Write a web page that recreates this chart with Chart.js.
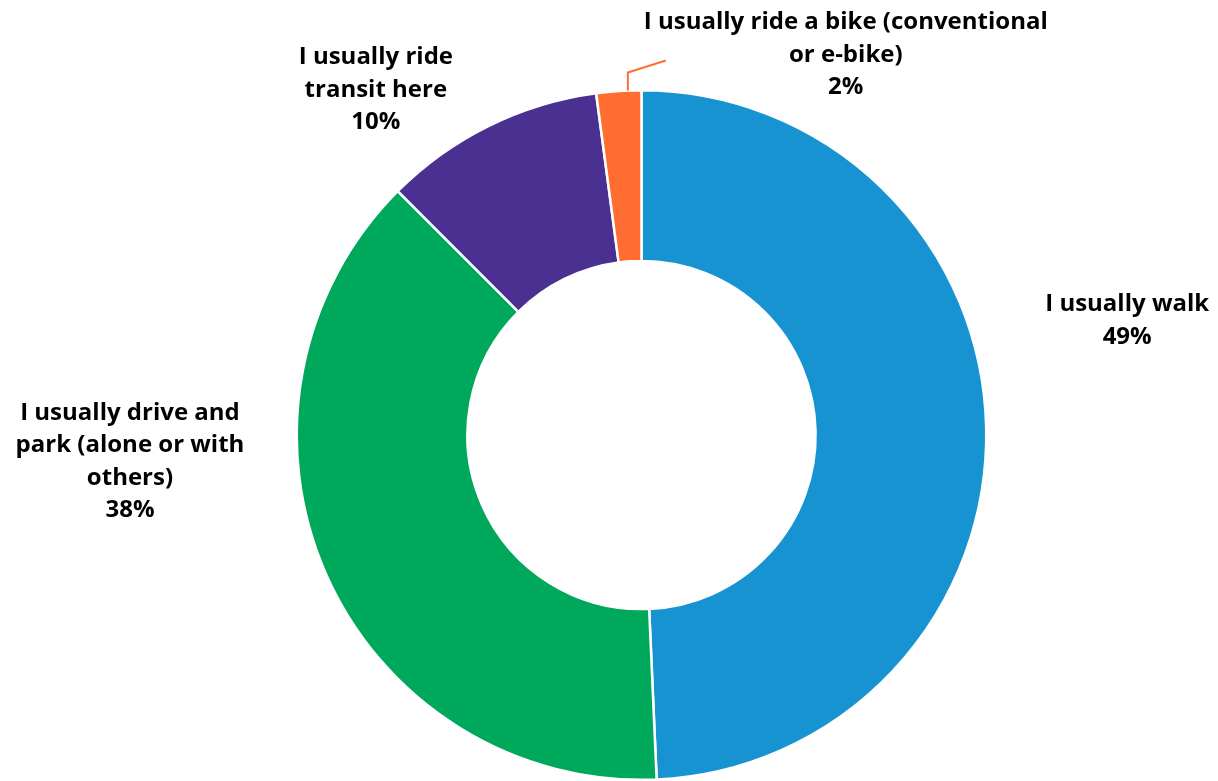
<!DOCTYPE html>
<html lang="en">
<head>
  <meta charset="UTF-8">
  <title>How do you usually get here?</title>
  <script src="https://cdn.jsdelivr.net/npm/chart.js"></script>
  <style>
    html, body { margin: 0; padding: 0; background: #fff; }
    .wrap { width: 1218px; height: 781px; position: relative; }
  </style>
</head>
<body>
  <div class="wrap"><canvas id="modeChart"></canvas></div>

  <script>
    // data
    const categories = [
      'I usually walk',
      'I usually drive and park (alone or with others)',
      'I usually ride transit here',
      'I usually ride a bike (conventional or e-bike)'
    ];
    const shares = [49.3, 38.2, 10.4, 2.1];
    const shareLabels = ['49%', '38%', '10%', '2%'];
    const labelLines = [
      ['I usually walk'],
      ['I usually drive and', 'park (alone or with', 'others)'],
      ['I usually ride', 'transit here'],
      ['I usually ride a bike (conventional', 'or e-bike)']
    ];
    const colors = ['#1893D1', '#00A85B', '#4A3191', '#FF6E30'];

    // where each label sits, relative to the outer edge at the slice middle
    const labelOffsets = [[141, -107], [-196, -112], [-113, -36], [227, -36]];

    const labelPlugin = {
      id: 'outsideLabels',
      afterDraw(chart) {
        const ctx = chart.ctx;
        const arcs = chart.getDatasetMeta(0).data;
        ctx.save();
        ctx.font = 'bold 24px "Open Sans"';
        ctx.fillStyle = '#000';
        ctx.textAlign = 'center';
        ctx.textBaseline = 'middle';
        const lh = 32.5;
        arcs.forEach((arc, i) => {
          const mid = (arc.startAngle + arc.endAngle) / 2;
          const px = arc.x + Math.cos(mid) * arc.outerRadius;
          const py = arc.y + Math.sin(mid) * arc.outerRadius;
          const lines = labelLines[i].concat([shareLabels[i]]);
          const cx = px + labelOffsets[i][0];
          const cy = py + labelOffsets[i][1];
          const top = cy - (lines.length - 1) * lh / 2;
          lines.forEach((t, k) => ctx.fillText(t, cx, top + k * lh));

          // leader line for the small bike slice
          if (i === 3) {
            const a = arc.startAngle + (arc.endAngle - arc.startAngle) * 0.7;
            const sx = arc.x + Math.cos(a) * arc.outerRadius;
            const sy = arc.y + Math.sin(a) * arc.outerRadius;
            ctx.strokeStyle = colors[3];
            ctx.lineWidth = 2;
            ctx.beginPath();
            ctx.moveTo(sx, sy);
            ctx.lineTo(sx, sy - 18);
            ctx.lineTo(sx + 38, sy - 30);
            ctx.stroke();
          }
        });
        ctx.restore();
      }
    };

    new Chart(document.getElementById('modeChart'), {
      type: 'doughnut',
      data: {
        labels: categories,
        datasets: [{
          data: shares,
          backgroundColor: colors,
          borderColor: '#fff',
          borderWidth: 2.5,
          hoverOffset: 0
        }]
      },
      options: {
        responsive: true,
        maintainAspectRatio: false,
        animation: false,
        cutout: '50.5%',
        layout: { padding: { left: 294, right: 229, top: 89, bottom: 0 } },
        plugins: {
          legend: { display: false },
          tooltip: { enabled: false }
        }
      },
      plugins: [labelPlugin]
    });
  </script>
</body>
</html>
